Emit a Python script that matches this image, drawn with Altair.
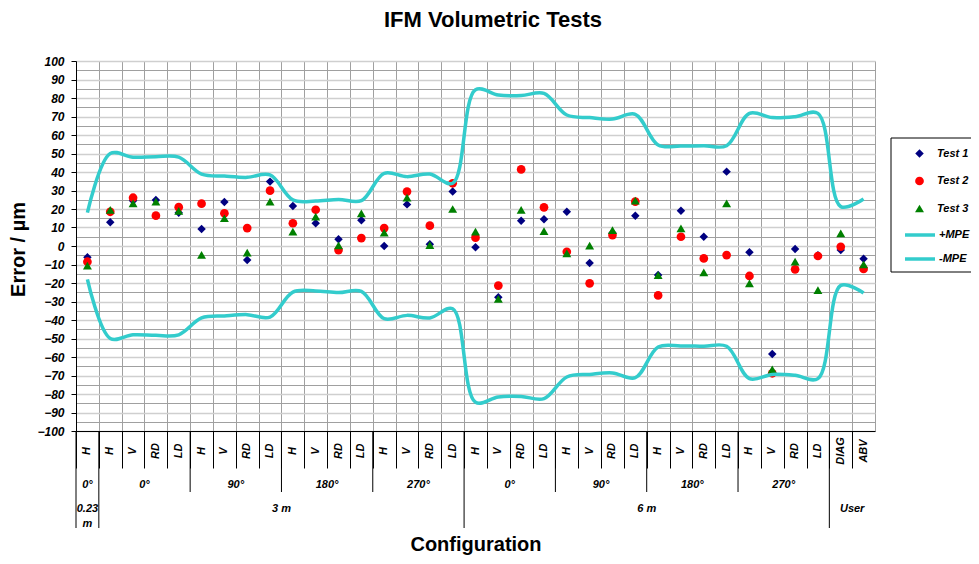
import altair as alt
import pandas as pd

FONT = "Liberation Sans"

# ---- data -------------------------------------------------------------
chart_title = "IFM Volumetric Tests"
categories = ["H",
              "H", "V", "RD", "LD", "H", "V", "RD", "LD",
              "H", "V", "RD", "LD", "H", "V", "RD", "LD",
              "H", "V", "RD", "LD", "H", "V", "RD", "LD",
              "H", "V", "RD", "LD", "H", "V", "RD", "LD",
              "DIAG", "ABV"]

test1 = [-6.1, 12.8, 24.5, 24.9, 18.0, 9.2, 23.8, -7.6, 34.8, 21.6, 12.3, 3.6, 13.9, 0.0, 22.5, 0.9, 29.5,
         -0.7, -27.7, 13.7, 14.4, 18.5, -9.2, 7.0, 16.4, -15.7, 19.1, 5.0, 40.2, -3.4, -58.4, -1.6, -5.0,
         -2.2, -6.9]
test2 = [-8.5, 18.5, 26.1, 16.4, 21.0, 22.9, 17.7, 9.7, 29.9, 12.3, 19.6, -2.2, 4.3, 9.7, 29.4, 11.0, 33.9,
         4.5, -21.4, 41.4, 20.9, -3.1, -20.2, 5.9, 24.0, -26.7, 5.0, -6.7, -4.9, -16.2, -68.8, -12.6, -5.4,
         -0.4, -12.4]
test3 = [-10.6, 19.5, 23.0, 24.0, 19.0, -4.8, 15.0, -3.6, 24.0, 7.8, 15.9, 0.3, 17.7, 7.2, 26.1, 0.5, 20.0,
         7.8, -28.6, 19.5, 8.1, -4.0, 0.2, 8.6, 24.5, -15.7, 9.5, -14.2, 23.0, -20.2, -66.7, -8.5, -23.8,
         6.8, -9.9]
mpe_plus = [18, 50, 48, 48.3, 48, 38.9, 37.8, 37.1, 38.4, 24.9, 24.3, 25.2, 24.5, 39.3, 37.5, 38.9, 33.9,
            84.5, 81.6, 81.3, 82.5, 70.8, 69.4, 68.6, 71.2, 54.6, 54, 54.2, 54.2, 71.7, 69.4, 69.9, 71.7,
            21.3, 25.4]
mpe_minus = [-18, -50, -48, -48.3, -48, -38.9, -37.8, -37.1, -38.4, -24.9, -24.3, -25.2, -24.5, -39.3, -37.5,
             -38.9, -33.9, -84.5, -81.6, -81.3, -82.5, -70.8, -69.4, -68.6, -71.2, -54.6, -54, -54.2, -54.2,
             -71.7, -69.4, -69.9, -71.7, -21.3, -25.4]

level2_labels = ["0°", "0°", "90°", "180°", "270°", "0°", "90°", "180°", "270°"]
level2_start = [0, 1, 5, 9, 13, 17, 21, 25, 29]
level2_end = [1, 5, 9, 13, 17, 21, 25, 29, 33]
level3_labels = ["0.23\nm", "3 m", "6 m", "User"]
level3_start = [0, 1, 17, 33]
level3_end = [1, 17, 33, 35]

series_names = ["Test 1", "Test 2", "Test 3"]
series_colors = ["#000080", "#FF0000", "#008000"]
series_shapes = ["diamond", "circle", "triangle-up"]
series_sizes = [72, 80, 95]
line_names = ["+MPE", "-MPE"]
line_color = "#33CCCC"
y_ticks = list(range(-100, 101, 5))

# ---- tables ---------------------------------------------------------
n = len(categories)
pos = [i + 0.5 for i in range(n)]
pts_rows = []
for s, vals in zip(series_names, [test1, test2, test3]):
    for p, v in zip(pos, vals):
        pts_rows.append({"pos": p, "series": s, "value": v})
points_df = pd.DataFrame(pts_rows)

line_rows = []
for s, vals in zip(line_names, [mpe_plus, mpe_minus]):
    for p, v in zip(pos, vals):
        line_rows.append({"pos": p, "series": s, "value": v})
lines_df = pd.DataFrame(line_rows)

cats_df = pd.DataFrame({"pos": pos, "label": categories})
lvl2_df = pd.DataFrame({"label": level2_labels, "start": level2_start, "end": level2_end})
lvl3_df = pd.DataFrame({"label": level3_labels, "start": level3_start, "end": level3_end})
edge3 = sorted(set(level3_start))
edge2 = sorted(set(level2_start) - set(level3_start))

# ---- scales / axes --------------------------------------------------
xscale = alt.Scale(domain=[0, n], nice=False, zero=False)
yscale = alt.Scale(domain=[-100, 100], nice=False, zero=False)
is10 = "datum.value % 10 === 0"

x_axis = alt.Axis(values=list(range(n + 1)), labels=False, grid=True, gridColor="#a0a0a0", gridWidth=1,
                  tickSize=37, tickWidth=1,
                  tickColor={"condition": {"test": f"datum.value >= {n}", "value": "transparent"}, "value": "black"},
                  domainColor="black", domainWidth=1,
                  title="Configuration", titleFont=FONT, titleFontSize=20, titleFontWeight="bold",
                  titleColor="black", titleY=119, titleBaseline="alphabetic")

y_axis = alt.Axis(values=y_ticks, labelExpr=f"{is10} ? datum.label : ''", labelOverlap=False, labelFlush=False,
                  grid=True,
                  gridColor={"condition": {"test": is10, "value": "#cfcfcf"}, "value": "#a0a0a0"},
                  gridWidth={"condition": {"test": is10, "value": 1.5}, "value": 1},
                  tickOpacity={"condition": {"test": is10, "value": 1}, "value": 0},
                  tickSize=5, tickColor="black", domainColor="black",
                  labelFont=FONT, labelFontSize=12, labelFontWeight="bold", labelFontStyle="italic",
                  labelColor="black", labelPadding=7,
                  title="Error / µm", titleFont=FONT, titleFontSize=20, titleFontWeight="bold",
                  titleColor="black", titleX=-52, titleY=188, titleAngle=270, titleBaseline="alphabetic",
                  titleAlign="center")

pts_legend = alt.Legend(title=None, orient="none", legendX=838, legendY=87, padding=0, rowPadding=15.5,
                        labelFont=FONT, labelFontSize=11, labelFontWeight="bold", labelFontStyle="italic",
                        labelColor="black", labelOffset=12, symbolSize=72, symbolOpacity=1,
                        symbolStrokeWidth=0)
line_legend = alt.Legend(title=None, orient="none", legendX=827, legendY=157, padding=0, rowPadding=-2.5,
                         labelFont=FONT, labelFontSize=11, labelFontWeight="bold", labelFontStyle="italic",
                         labelColor="black", labelOffset=2, symbolSize=900, symbolType="stroke",
                         symbolStrokeWidth=3.5, symbolOpacity=1)

X = alt.X("pos:Q", scale=xscale, axis=x_axis)
Y = alt.Y("value:Q", scale=yscale, axis=y_axis)

# ---- layers ---------------------------------------------------------
box = alt.Chart(pd.DataFrame({"k": [0]})).mark_rect(fill="transparent", stroke="black", strokeWidth=1).encode(
    x=alt.value(815), x2=alt.value(915), y=alt.value(77), y2=alt.value(211))

title_layer = alt.Chart(pd.DataFrame({"t": [chart_title]})).mark_text(
    font=FONT, fontSize=22, fontWeight="bold", color="black", align="center", baseline="alphabetic").encode(
    x=alt.value(417), y=alt.value(-34), text="t:N")

lines = alt.Chart(lines_df).mark_line(interpolate="catmull-rom", strokeWidth=3.5).encode(
    x=X, y=Y,
    stroke=alt.Stroke("series:N", scale=alt.Scale(domain=line_names, range=[line_color, line_color]),
                      legend=line_legend),
)

points = alt.Chart(points_df).mark_point(filled=True, opacity=1, strokeWidth=0).encode(
    x=X, y=Y,
    color=alt.Color("series:N", scale=alt.Scale(domain=series_names, range=series_colors), legend=pts_legend),
    shape=alt.Shape("series:N", scale=alt.Scale(domain=series_names, range=series_shapes), legend=pts_legend),
    size=alt.Size("series:N", scale=alt.Scale(domain=series_names, range=series_sizes), legend=None),
)

txt = dict(font=FONT, fontSize=11, fontWeight="bold", fontStyle="italic", color="black", align="center")

lvl1 = alt.Chart(cats_df).mark_text(angle=270, baseline="middle", **txt).encode(
    x=X, y=alt.value(390), text="label:N")

lvl2 = alt.Chart(lvl2_df).transform_calculate(pos="(datum.start + datum.end) / 2").mark_text(
    baseline="middle", **txt).encode(
    x=X, y=alt.value(424), text="label:N")

lvl3 = alt.Chart(lvl3_df).transform_calculate(pos="(datum.start + datum.end) / 2").mark_text(
    baseline="top", lineBreak="\n", lineHeight=15, **txt).encode(
    x=X, y=alt.value(442), text="label:N")

rules2 = alt.Chart(pd.DataFrame({"pos": edge2})).mark_rule(color="black", strokeWidth=1).encode(
    x=X, y=alt.value(370), y2=alt.value(431))

rules3 = alt.Chart(pd.DataFrame({"pos": edge3})).mark_rule(color="black", strokeWidth=1).encode(
    x=X, y=alt.value(370), y2=alt.value(467))

chart = alt.layer(points, box, title_layer, lines, lvl1, lvl2, lvl3, rules2, rules3).properties(
    width=799, height=370,
    autosize=alt.AutoSizeParams(type="none"),
    padding={"left": 68, "top": 53, "right": 96, "bottom": 125},
).configure_view(stroke=None).configure(font=FONT, background="white")

chart.save("out.html", embed_options={"renderer": "svg", "actions": False})
